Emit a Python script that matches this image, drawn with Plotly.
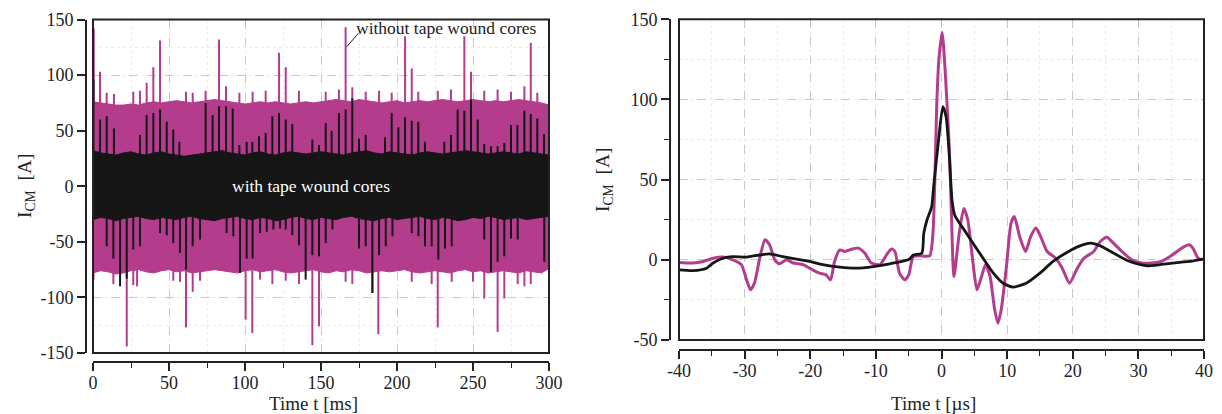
import plotly.graph_objects as go

# ---- left panel: 300 ms record, band envelopes sampled every 5 ms ----
env_t = [0, 5, 10, 15, 20, 25, 30, 35, 40, 45, 50, 55, 60, 65, 70, 75, 80, 85, 90, 95,
         100, 105, 110, 115, 120, 125, 130, 135, 140, 145, 150, 155, 160, 165, 170, 175,
         180, 185, 190, 195, 200, 205, 210, 215, 220, 225, 230, 235, 240, 245, 250, 255,
         260, 265, 270, 275, 280, 285, 290, 295, 300]
mag_upper = [76, 75, 74, 73, 73, 74, 73, 75, 76, 75, 76, 77, 76, 75, 76, 77, 78, 77, 76, 75,
             74, 75, 76, 75, 76, 75, 74, 75, 76, 75, 76, 77, 78, 77, 76, 78, 77, 76, 75, 76,
             77, 75, 76, 77, 76, 77, 78, 77, 76, 77, 78, 77, 76, 77, 76, 77, 78, 77, 76, 75, 73]
mag_lower = [-78, -76, -77, -79, -78, -76, -75, -77, -78, -76, -75, -77, -76, -78, -77, -76,
             -75, -76, -77, -78, -76, -75, -77, -76, -75, -77, -78, -77, -76, -75, -77, -78,
             -76, -77, -75, -76, -78, -77, -76, -77, -76, -75, -77, -78, -77, -76, -77, -78,
             -76, -75, -77, -76, -78, -77, -76, -77, -78, -76, -77, -78, -74]
blk_upper = [32, 30, 29, 28, 30, 31, 29, 28, 30, 31, 29, 28, 27, 28, 29, 30, 31, 32, 30, 29,
             28, 30, 31, 29, 28, 30, 31, 30, 29, 30, 31, 30, 29, 28, 30, 31, 32, 30, 29, 31,
             30, 29, 28, 30, 31, 30, 29, 30, 31, 32, 31, 30, 29, 30, 31, 30, 29, 31, 30, 29, 28]
blk_lower = [-30, -28, -29, -31, -29, -28, -27, -29, -30, -28, -29, -30, -28, -27, -29, -30,
             -31, -29, -28, -27, -29, -30, -28, -29, -31, -30, -28, -27, -29, -30, -28, -29,
             -30, -28, -27, -29, -30, -31, -29, -28, -30, -29, -28, -27, -29, -30, -28, -29,
             -31, -30, -28, -29, -27, -28, -30, -29, -28, -30, -29, -28, -27]

# spikes (time in ms, peak in A)
mag_up_t = [0.5, 4.6, 9.0, 13.8, 26.5, 30.9, 35.3, 39.7, 44.1, 61.2, 65.6, 74.1, 82.9, 87.5,
            96.3, 105, 113.6, 122.4, 126.8, 135.5, 153.1, 161.8, 166.2, 170.6, 179.4, 188.2,
            196.5, 205.3, 209.7, 214, 226.8, 235.5, 244.3, 248.7, 257.4, 266.2, 275, 283.8,
            288, 292.3]
mag_up_v = [142, 103, 84, 83, 85, 86, 93, 107, 131, 85, 84, 86, 132, 90, 84, 85, 86, 120,
            107, 86, 85, 87, 143, 89, 85, 86, 84, 135, 106, 85, 86, 87, 135, 103, 86, 87, 85,
            90, 129, 84]
mag_dn_t = [0.3, 13.4, 22.2, 26.5, 29, 52.8, 57.2, 61.2, 65.6, 70.4, 100.4, 104.8, 109.9,
            118, 126.8, 135.5, 144.3, 148.7, 166.2, 170.6, 183.8, 187.7, 209.7, 222.8, 226.8,
            236, 250, 257.4, 266.2, 270.6, 279.4, 283.8, 288]
mag_dn_v = [-84, -88, -144, -89, -90, -85, -86, -127, -95, -85, -120, -132, -84, -88, -85,
            -88, -143, -126, -86, -88, -96, -133, -86, -88, -127, -86, -86, -101, -131, -101,
            -88, -90, -88]
blk_up_t = [0.3, 4.6, 9.0, 13.8, 30.9, 35.3, 39.7, 44.1, 48.5, 52.8, 56.8, 74.1, 78.7, 82.9,
            87.5, 91.9, 96.3, 101.1, 104.8, 109.2, 113.6, 118, 122.4, 126.8, 131.1, 144.3,
            148.7, 153.1, 157, 161.8, 166.2, 170.6, 175, 179.4, 192.1, 196.5, 200.9, 205.3,
            209.7, 214, 218.4, 231.1, 235.5, 239.9, 244.3, 248.7, 253.1, 257.4, 261.8, 266.2,
            270.6, 275, 279.2, 283.8, 288, 292.3, 296.7]
blk_up_v = [96, 60, 63, 52, 46, 64, 66, 69, 58, 51, 40, 75, 64, 72, 72, 70, 37, 40, 40, 45,
            48, 63, 66, 60, 56, 42, 37, 57, 50, 66, 69, 79, 43, 46, 44, 66, 53, 62, 59, 58,
            40, 40, 46, 69, 68, 78, 60, 38, 36, 36, 39, 55, 55, 68, 65, 61, 47]
blk_dn_t = [9.0, 13.4, 17.8, 22.2, 26.5, 30.9, 44.1, 48.5, 52.8, 57.2, 61.2, 65.6, 70.4,
            87.9, 92.3, 96.7, 101.1, 105, 109.9, 114.3, 118.7, 123.1, 126.8, 131.1, 135.5,
            139.9, 144.3, 148.7, 153.1, 157.5, 175, 179.4, 183.8, 188.2, 192.6, 197, 209.7,
            214.1, 218.4, 222.8, 227.2, 231.6, 236, 257.4, 261.8, 266.2, 270.6, 275, 279.4,
            296.9]
blk_dn_v = [-54, -65, -90, -83, -57, -54, -42, -44, -51, -60, -75, -54, -48, -42, -45, -78,
            -65, -65, -42, -41, -39, -38, -39, -44, -53, -84, -62, -63, -51, -39, -56, -54,
            -96, -62, -54, -45, -42, -45, -54, -54, -66, -56, -54, -48, -77, -68, -63, -47,
            -48, -68]

# ---- right panel: zoom around one event (µs) ----
mag_t = [-40, -37.9, -36.3, -34.8, -33.3, -31.8, -30.5, -29.7, -29.1, -28.5, -27.7, -26.9,
         -26.2, -25.4, -24.7, -23.6, -22.6, -21.1, -20.1, -18.6, -17.6, -16.9, -16.3, -15.5,
         -14.8, -14, -12.7, -11.7, -10.7, -9.4, -8.2, -7.6, -7.1, -6.4, -5.6, -5.0, -4.3,
         -3.3, -1.8, -1.3, -0.7, -0.4, 0.1, 0.6, 1.2, 1.5, 1.9, 2.7, 3.4, 4.0, 4.8, 5.4, 6.1,
         6.7, 7.4, 8.1, 8.6, 9.1, 9.9, 10.6, 11.1, 11.9, 12.8, 13.6, 14.4, 15.1, 16.1, 17.4,
         18.4, 19.5, 20.7, 21.7, 23.2, 24.2, 25.2, 26.2, 27.5, 29.0, 30.5, 32.0, 33.5, 35.0,
         36.6, 37.7, 38.3, 39.1, 39.7]
mag_v = [-1.7, -2, -1, 1, 1.7, 0, -3, -12.5, -18.7, -14.5, 1, 12.5, 9.4, 0, -2.5, 0, -2, -3,
         -5.2, -8.3, -9.4, -12.5, -1, 6.2, 5.2, 6.2, 7.3, 4.2, -2, -3, 4.2, 6.7, 5.2, -8.3,
         -12.5, -9.4, 2, 2.5, 2.5, 16.6, 99.7, 125, 142, 115, 68.5, 30, -10.4, 16.6, 32, 25,
         -2, -18.7, -10.4, -3, -10.4, -31, -39.5, -31, -4, 22.9, 27, 14.6, 5.2, 14.6, 19.8,
         14.6, 5.2, 1, -5.2, -14.6, -5.2, 1, 5.2, 11.4, 14.1, 10.4, 5.2, 0, -2, -2, -1, 2.5,
         7.3, 9.4, 7.3, 1, 0]
blk_t = [-40, -37.9, -35.8, -34.8, -33.3, -31.8, -29.7, -27.7, -26.2, -24.2, -22.1, -20.1,
         -18.1, -15.5, -13, -10.4, -7.9, -4.9, -4.3, -3.0, -2.7, -2.2, -1.5, -1.2, -0.5, 0.2,
         0.7, 1.2, 1.6, 2.0, 3.8, 5.8, 7.9, 9.4, 10.9, 12.9, 15.0, 17.0, 19.1, 21.1, 22.7,
         24.2, 26.2, 28.3, 30.3, 31.3, 33.3, 35.9, 38.4, 40]
blk_v = [-6.2, -6.7, -5.2, -2, 1, 2, 1.7, 3, 3.7, 2, 0.4, -1, -3, -4.6, -5.2, -4.2, -2.5, 0.4,
         3, 4.2, 16.6, 25, 33, 45.6, 72.6, 95.5, 89.3, 64.3, 37.3, 28, 16.6, 4.2, -8.3, -14.6,
         -17, -14.6, -8.3, -1, 4.6, 8.7, 10.4, 8.7, 4.2, -0.4, -3, -3.7, -3, -1.7, -0.6, 0.4]

# tick labels (plain hyphen for negatives, as in the original)
left_x_ticks = [0, 50, 100, 150, 200, 250, 300]
left_y_ticks = [-150, -100, -50, 0, 50, 100, 150]
right_x_ticks = [-40, -30, -20, -10, 0, 10, 20, 30, 40]
right_y_ticks = [-50, 0, 50, 100, 150]

MAG = "#b43c8c"
BLK = "#161616"
FONT = "Liberation Serif, Times New Roman, serif"

# the page body adds an 8 px margin, so the figure is 8 px smaller and
# positions below are given in window pixels and converted
OFF = 8
W, H = 1222 - OFF, 414 - OFF


def px(x):
    return (x - OFF) / W


def py(y):
    return 1 - (y - OFF) / H


def spikes(ts, vs):
    xs, ys = [], []
    for t, v in zip(ts, vs):
        xs += [t, t, None]
        ys += [0, v, None]
    return xs, ys


fig = go.Figure()

# magenta band + spikes, then black band + spikes on top
fig.add_trace(go.Scatter(x=env_t + env_t[::-1], y=mag_upper + mag_lower[::-1],
                         fill="toself", fillcolor=MAG, mode="lines",
                         line=dict(color=MAG, width=1), xaxis="x", yaxis="y"))
for ts, vs in [(mag_up_t, mag_up_v), (mag_dn_t, mag_dn_v)]:
    sx, sy = spikes(ts, vs)
    fig.add_trace(go.Scatter(x=sx, y=sy, mode="lines", line=dict(color=MAG, width=2),
                             xaxis="x", yaxis="y"))
fig.add_trace(go.Scatter(x=env_t + env_t[::-1], y=blk_upper + blk_lower[::-1],
                         fill="toself", fillcolor=BLK, mode="lines",
                         line=dict(color=BLK, width=1), xaxis="x", yaxis="y"))
for ts, vs in [(blk_up_t, blk_up_v), (blk_dn_t, blk_dn_v)]:
    sx, sy = spikes(ts, vs)
    fig.add_trace(go.Scatter(x=sx, y=sy, mode="lines", line=dict(color=BLK, width=2),
                             xaxis="x", yaxis="y"))

fig.add_trace(go.Scatter(x=mag_t, y=mag_v, mode="lines",
                         line=dict(color=MAG, width=3, shape="spline", smoothing=0.6),
                         xaxis="x2", yaxis="y2"))
fig.add_trace(go.Scatter(x=blk_t, y=blk_v, mode="lines",
                         line=dict(color=BLK, width=2.8, shape="spline", smoothing=0.6),
                         xaxis="x2", yaxis="y2"))


def ax(rng, ticks, mdtick, anchor_pos, domain, minor_len=5, standoff=None):
    d = dict(range=rng, tickmode="array", tickvals=ticks,
             ticktext=[str(v) for v in ticks], domain=domain,
             anchor="free", position=anchor_pos, automargin=False,
             showline=True, linecolor="#222", linewidth=2, ticks="outside", ticklen=8,
             tickwidth=1.5, tickcolor="#222",
             tickfont=dict(family=FONT, size=18, color="#222"), zeroline=False,
             showgrid=True, gridcolor="#c8c8c8", griddash="dash", gridwidth=1,
             minor=dict(tickmode="linear", tick0=0, dtick=mdtick,
                        ticks="outside" if minor_len else "", ticklen=minor_len,
                        tickcolor="#222", tickwidth=1.2, showgrid=True,
                        gridcolor="#ececec", griddash="dot", gridwidth=1),
             fixedrange=True)
    if standoff is not None:
        d["ticklabelstandoff"] = standoff
    return d


def label(text, x, y, angle=0, color="#222", ref="paper", size=17.5):
    return dict(text=text, x=x, y=y, xref=ref if ref == "paper" else "x",
                yref=ref if ref == "paper" else "y", textangle=angle, showarrow=False,
                xanchor="center", yanchor="middle",
                font=dict(family=FONT, size=size, color=color))


fig.update_layout(
    width=W, height=H, margin=dict(l=0, r=0, t=0, b=0),
    font=dict(family=FONT, color="#222"),
    paper_bgcolor="white", plot_bgcolor="white", showlegend=False,
    xaxis=ax([0, 300], left_x_ticks, 25, py(362), [px(93), px(549)], standoff=-4),
    yaxis=ax([-150, 150], left_y_ticks, 25, px(86), [py(353), py(19.5)], minor_len=0),
    xaxis2=ax([-40, 40], right_x_ticks, 5, py(350), [px(679), px(1204)], standoff=-4),
    yaxis2=ax([-50, 150], right_y_ticks, 25, px(670), [py(340), py(19.3)]),
    shapes=[
        dict(type="rect", xref="x domain", yref="y domain", x0=0, x1=1, y0=0, y1=1,
             line=dict(color="#222", width=2), layer="above"),
        dict(type="rect", xref="x2 domain", yref="y2 domain", x0=0, x1=1, y0=0, y1=1,
             line=dict(color="#222", width=2), layer="above"),
        dict(type="line", xref="x", yref="y", x0=166.9, y0=125.5, x1=174.6, y1=137.5,
             line=dict(color="#222", width=1)),
    ],
    annotations=[
        label("with tape wound cores", 143.4, 0, color="white", ref="data"),
        label("without tape wound cores", 232, 142, ref="data"),
        label("I<sub>CM</sub>  [A]", px(26), py(186), angle=-90, size=19.5),
        label("I<sub>CM</sub>  [A]", px(604), py(180), angle=-90, size=19.5),
        label("Time t [ms]", px(313), py(403), size=19),
        label("Time t [µs]", px(933), py(403), size=19),
    ],
)

fig.write_html("out.html")
